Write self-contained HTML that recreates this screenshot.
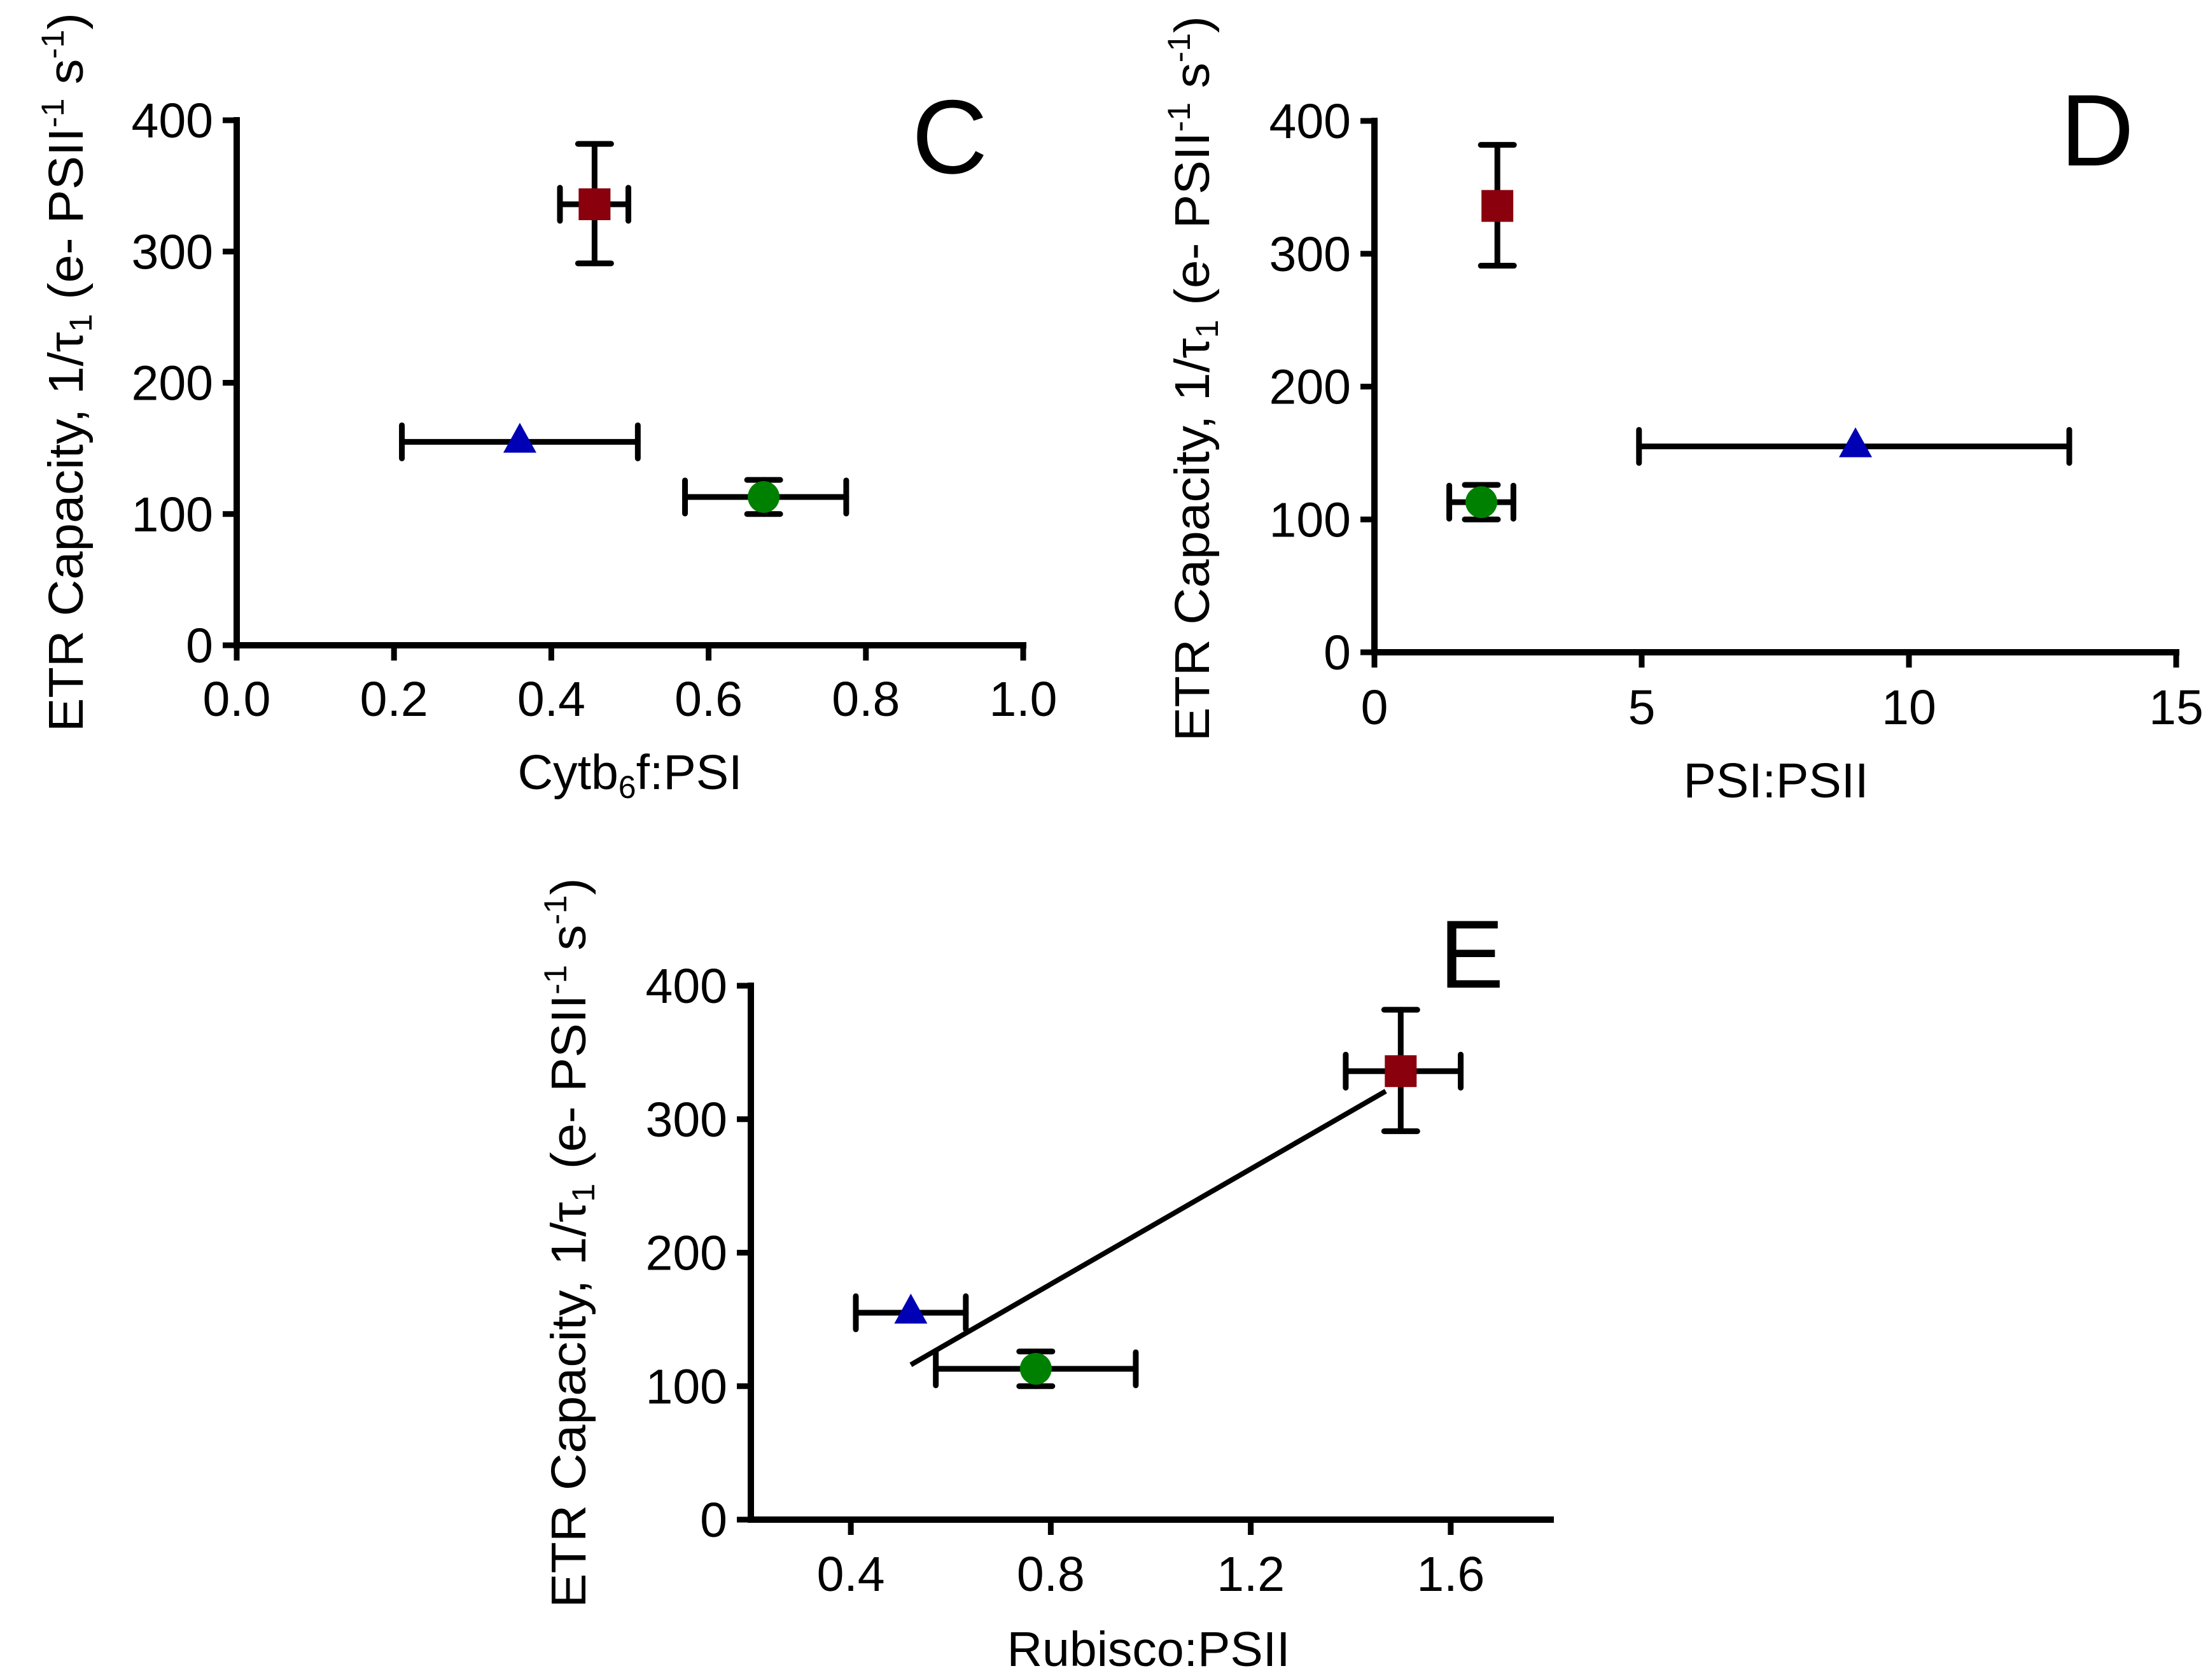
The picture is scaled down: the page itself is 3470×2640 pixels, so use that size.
<!DOCTYPE html>
<html><head><meta charset="utf-8"><style>
html,body{margin:0;padding:0;background:#fff;}
svg{display:block;font-family:"Liberation Sans",Arial,sans-serif;}
</style></head><body>
<svg id="fig" width="3470" height="2640" viewBox="0 0 3470 2640" xmlns="http://www.w3.org/2000/svg"></svg>
<script>
// Shared data
const groups = ["high", "mid", "low"];
const markerShapes = ["square", "triangle", "circle"];
const markerColors = ["#8a000d", "#0000b4", "#008000"];
const etrValues = [336, 155, 113];
const etrErrLo = [291, 155, 100];
const etrErrHi = [382, 155, 126];
const yTicks = [0, 100, 200, 300, 400];

// Panel C
const cX = [0.455, 0.36, 0.67];
const cXLo = [0.411, 0.21, 0.57];
const cXHi = [0.498, 0.51, 0.775];
const cTicks = [0, 0.2, 0.4, 0.6, 0.8, 1.0];
const cTickLabels = ["0.0", "0.2", "0.4", "0.6", "0.8", "1.0"];
// Panel D
const dX = [2.3, 9.0, 2.0];
const dXLo = [2.3, 4.95, 1.4];
const dXHi = [2.3, 13.0, 2.6];
const dTicks = [0, 5, 10, 15];
const dTickLabels = ["0", "5", "10", "15"];
// Panel E
const eX = [1.5, 0.52, 0.77];
const eXLo = [1.39, 0.41, 0.57];
const eXHi = [1.62, 0.63, 0.97];
const eTicks = [0.4, 0.8, 1.2, 1.6];
const eTickLabels = ["0.4", "0.8", "1.2", "1.6"];
const eFitX = [0.52, 1.47];
const eFitY = [116, 321];

const NS = "http://www.w3.org/2000/svg";
const svg = document.getElementById("fig");
function mk(tag, parent, attrs) {
  const e = document.createElementNS(NS, tag);
  for (const k in attrs) e.setAttribute(k, attrs[k]);
  parent.appendChild(e);
  return e;
}

function panel(cfg) {
  const g = mk("g", svg, {});
  
  
  const sx = v => cfg.px0 + (v - cfg.xmin) / (cfg.xmax - cfg.xmin) * (cfg.px1 - cfg.px0);
  const sy = v => cfg.py0 - v / 400 * (cfg.py0 - cfg.py400);
  // axes
  const ya = mk("line", g, {x1: cfg.px0, y1: sy(0) + 5, x2: cfg.px0, y2: sy(400) - 5, stroke: "#000", "stroke-width": 10});
  
  
  const xa = mk("line", g, {x1: cfg.px0 - 5, y1: cfg.py0, x2: cfg.px1 + 5, y2: cfg.py0, stroke: "#000", "stroke-width": 10});
  
  
  yTicks.forEach(v => {
    const t = mk("line", g, {x1: cfg.px0 - 22, y1: sy(v), x2: cfg.px0, y2: sy(v), stroke: "#000", "stroke-width": 9});
    
    
    const l = mk("text", g, {x: cfg.px0 - 37, y: sy(v) + 27, "font-size": 77, "text-anchor": "end"});
    l.textContent = String(v);
    
    
  });
  cfg.ticks.forEach((v, i) => {
    const t = mk("line", g, {x1: sx(v), y1: cfg.py0, x2: sx(v), y2: cfg.py0 + 24, stroke: "#000", "stroke-width": 9});
    
    
    const l = mk("text", g, {x: sx(v), y: cfg.tickY + 28, "font-size": 77, "text-anchor": "middle"});
    l.textContent = cfg.tickLabels[i];
    
    
  });
  // x title
  const xt = mk("text", g, {x: cfg.titleX, y: cfg.titleY, "font-size": 77, "text-anchor": "middle"});
  xt.innerHTML = cfg.title;
  
  
  // y title
  const yt = mk("text", g, {x: 0, y: 0, "font-size": 77, "text-anchor": "middle", textLength: cfg.ylen, lengthAdjust: "spacingAndGlyphs",
    transform: "translate(" + cfg.ylabX + "," + cfg.ylabY + ") rotate(-90)"});
  yt.innerHTML = 'ETR Capacity, 1/τ<tspan font-size="50" dy="14">1</tspan><tspan dy="-14"> (e-  PSII</tspan><tspan font-size="50" dy="-30">-1</tspan><tspan dy="30"> s</tspan><tspan font-size="50" dy="-30">-1</tspan><tspan dy="30">)</tspan>';
  
  
  // panel letter
  const pl = mk("text", g, {x: cfg.letterX, y: cfg.letterY, "font-size": cfg.letterSize});
  pl.textContent = cfg.letter;
  
  
  // fit line
  if (cfg.fitX) {
    const fl = mk("line", g, {x1: sx(cfg.fitX[0]), y1: sy(cfg.fitY[0]), x2: sx(cfg.fitX[1]), y2: sy(cfg.fitY[1]), stroke: "#000", "stroke-width": 8});
    
    
  }
  // points
  cfg.x.forEach((xv, i) => {
    const pg = mk("g", g, {});
    
    
    const cx = sx(xv), cy = sy(etrValues[i]);
    const eb = {stroke: "#000", "stroke-width": 9, "stroke-linecap": "round"};
    if (etrErrHi[i] !== etrErrLo[i]) {
      mk("line", pg, Object.assign({x1: cx, y1: sy(etrErrLo[i]), x2: cx, y2: sy(etrErrHi[i])}, eb));
      mk("line", pg, Object.assign({x1: cx - 26, y1: sy(etrErrLo[i]), x2: cx + 26, y2: sy(etrErrLo[i])}, eb));
      mk("line", pg, Object.assign({x1: cx - 26, y1: sy(etrErrHi[i]), x2: cx + 26, y2: sy(etrErrHi[i])}, eb));
    }
    if (cfg.xHi[i] !== cfg.xLo[i]) {
      mk("line", pg, Object.assign({x1: sx(cfg.xLo[i]), y1: cy, x2: sx(cfg.xHi[i]), y2: cy}, eb));
      mk("line", pg, Object.assign({x1: sx(cfg.xLo[i]), y1: cy - 26, x2: sx(cfg.xLo[i]), y2: cy + 26}, eb));
      mk("line", pg, Object.assign({x1: sx(cfg.xHi[i]), y1: cy - 26, x2: sx(cfg.xHi[i]), y2: cy + 26}, eb));
    }
    const col = markerColors[i];
    if (markerShapes[i] === "square") mk("rect", pg, {x: cx - 25, y: cy - 25, width: 50, height: 50, fill: col});
    else if (markerShapes[i] === "circle") mk("circle", pg, {cx: cx, cy: cy, r: 25, fill: col});
    else mk("polygon", pg, {points: (cx) + "," + (cy - 30) + " " + (cx - 26) + "," + (cy + 17) + " " + (cx + 26) + "," + (cy + 17), fill: col});
  });
}

panel({name: "panel-c", px0: 372, px1: 1608, xmin: 0, xmax: 1, py0: 1014, py400: 189,
  ticks: cTicks, tickLabels: cTickLabels, tickY: 1097, x: cX, xLo: cXLo, xHi: cXHi,
  title: 'Cytb<tspan font-size="50" dy="14">6</tspan><tspan dy="-14">f:PSI</tspan>', titleX: 990, titleY: 1240,
  ylabX: 130, ylabY: 585, ylen: 1130, letter: "C", letterX: 1433, letterY: 272, letterSize: 165});
panel({name: "panel-d", px0: 2160, px1: 3420, xmin: 0, xmax: 15, py0: 1025, py400: 190,
  ticks: dTicks, tickLabels: dTickLabels, tickY: 1110, x: dX, xLo: dXLo, xHi: dXHi,
  title: 'PSI:PSII', titleX: 2791, titleY: 1253,
  ylabX: 1900, ylabY: 595, ylen: 1140, letter: "D", letterX: 3238, letterY: 260, letterSize: 160});
panel({name: "panel-e", px0: 1180, px1: 2437, xmin: 0.2, xmax: 1.8, py0: 2388, py400: 1549,
  ticks: eTicks, tickLabels: eTickLabels, tickY: 2472, x: eX, xLo: eXLo, xHi: eXHi, fitX: eFitX, fitY: eFitY,
  title: 'Rubisco:PSII', titleX: 1805, titleY: 2618,
  ylabX: 920, ylabY: 1953, ylen: 1147, letter: "E", letterX: 2262, letterY: 1552, letterSize: 152});
</script>
</body></html>
